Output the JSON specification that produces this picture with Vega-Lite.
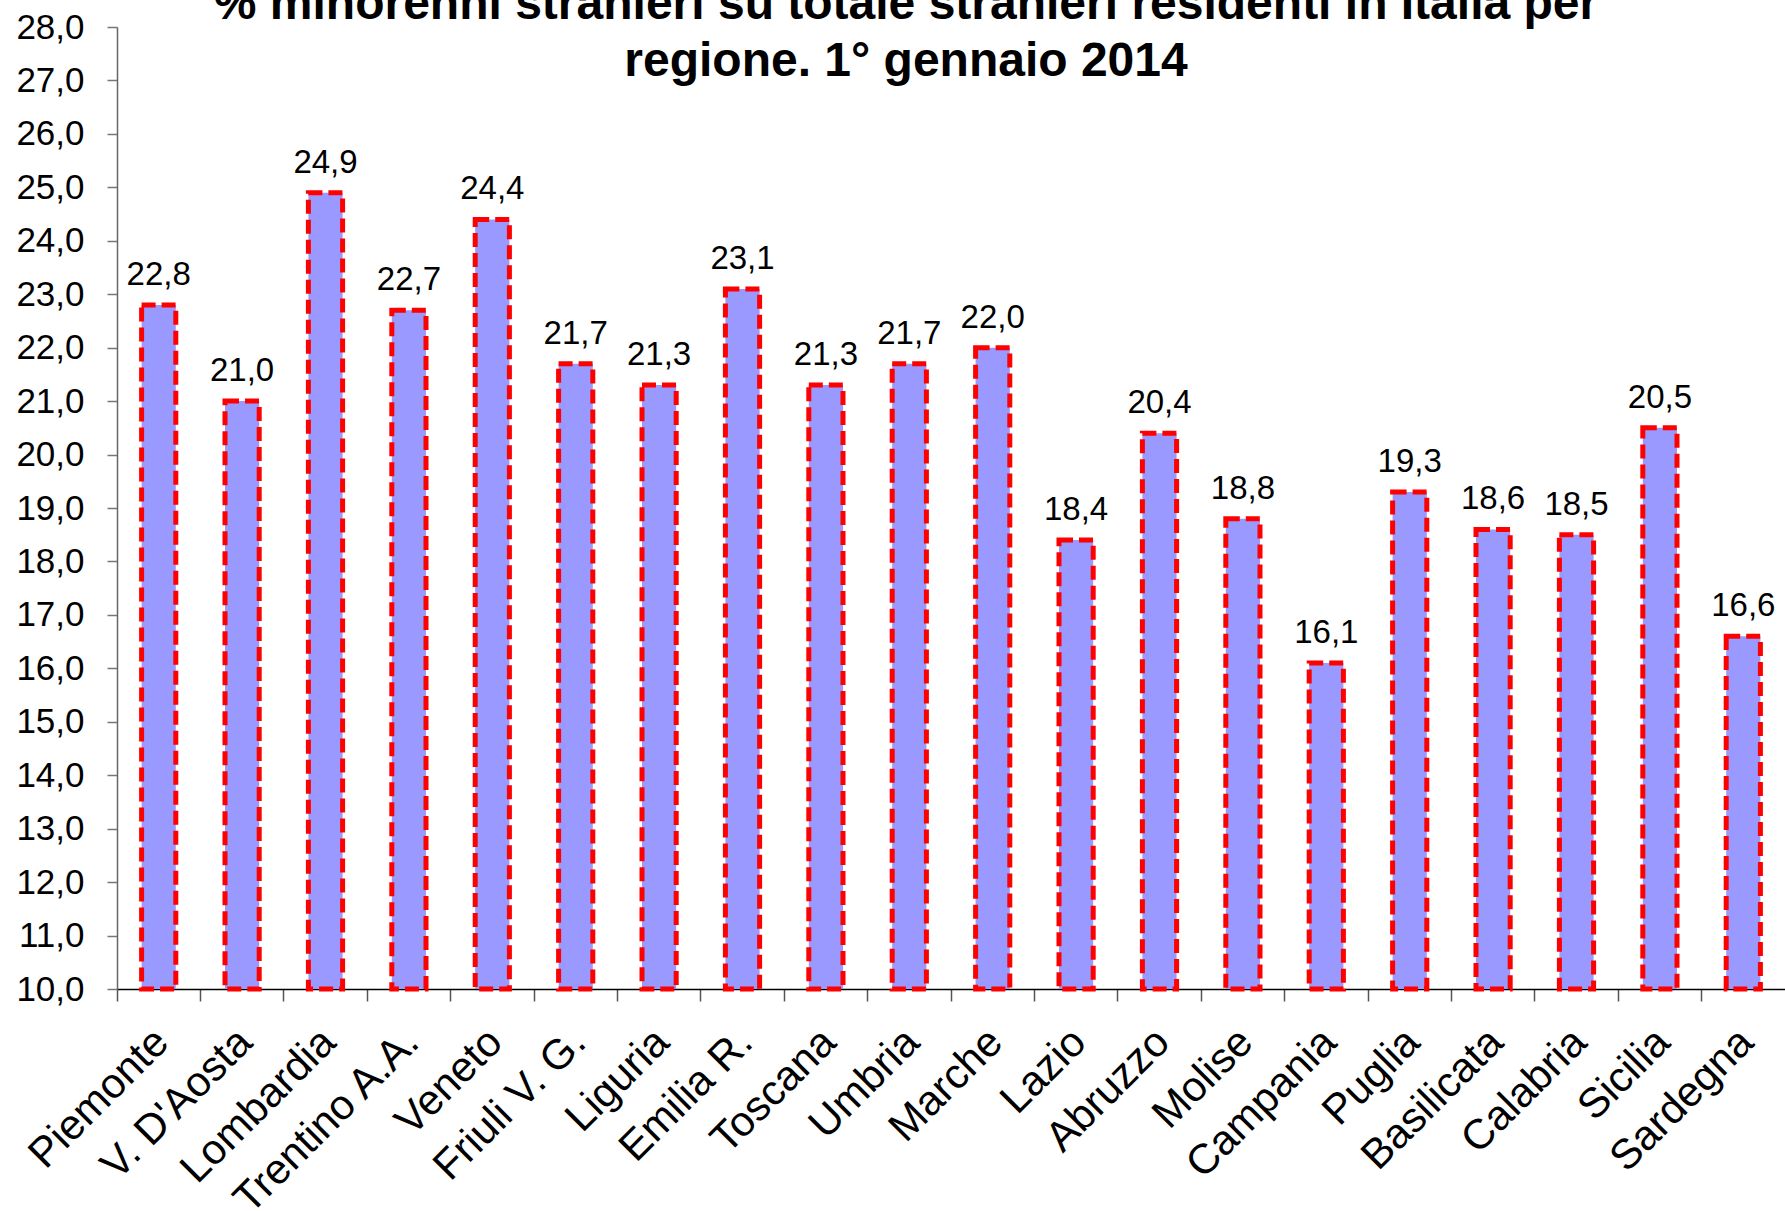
{
  "$schema": "https://vega.github.io/schema/vega-lite/v6.json",
  "width": 1668,
  "height": 962,
  "autosize": {"type": "none"},
  "padding": {"left": 117, "top": 27, "right": 0, "bottom": 222},
  "background": "white",
  "config": {
    "locale": {"number": {"decimal": ",", "thousands": ".", "grouping": [3], "currency": ["€", ""]}},
    "view": {"stroke": null},
    "font": "Liberation Sans"
  },
  "title": {
    "text": ["% minorenni stranieri su totale stranieri residenti in Italia per", "regione. 1° gennaio 2014"],
    "font": "Liberation Sans",
    "fontSize": 48,
    "fontWeight": "bold",
    "color": "black",
    "lineHeight": 57,
    "anchor": "middle",
    "frame": "group",
    "dx": -45,
    "offset": -76
  },
  "data": {
    "values": [
      {"regione": "Piemonte", "valore": 22.8},
      {"regione": "V. D'Aosta", "valore": 21.0},
      {"regione": "Lombardia", "valore": 24.9},
      {"regione": "Trentino A.A.", "valore": 22.7},
      {"regione": "Veneto", "valore": 24.4},
      {"regione": "Friuli V. G.", "valore": 21.7},
      {"regione": "Liguria", "valore": 21.3},
      {"regione": "Emilia R.", "valore": 23.1},
      {"regione": "Toscana", "valore": 21.3},
      {"regione": "Umbria", "valore": 21.7},
      {"regione": "Marche", "valore": 22.0},
      {"regione": "Lazio", "valore": 18.4},
      {"regione": "Abruzzo", "valore": 20.4},
      {"regione": "Molise", "valore": 18.8},
      {"regione": "Campania", "valore": 16.1},
      {"regione": "Puglia", "valore": 19.3},
      {"regione": "Basilicata", "valore": 18.6},
      {"regione": "Calabria", "valore": 18.5},
      {"regione": "Sicilia", "valore": 20.5},
      {"regione": "Sardegna", "valore": 16.6}
    ]
  },
  "encoding": {
    "x": {
      "field": "regione",
      "type": "nominal",
      "sort": null,
      "scale": {"paddingInner": 0, "paddingOuter": 0},
      "axis": {
        "title": null,
        "labelAngle": -45,
        "labelAlign": "right",
        "labelBaseline": "middle",
        "labelFont": "Liberation Sans",
        "labelFontSize": 42,
        "labelColor": "black",
        "labelPadding": 34,
        "labelOffset": 3,
        "labelOverlap": false,
        "labelBound": false,
        "labelFlush": false,
        "labelLimit": 0,
        "bandPosition": 0,
        "tickSize": 12,
        "tickColor": "#555555",
        "tickWidth": 1.5,
        "domainColor": "black",
        "domainWidth": 1.5
      }
    },
    "y": {
      "field": "valore",
      "type": "quantitative",
      "scale": {"domain": [10, 28], "zero": false, "nice": false},
      "axis": {
        "title": null,
        "values": [10, 11, 12, 13, 14, 15, 16, 17, 18, 19, 20, 21, 22, 23, 24, 25, 26, 27, 28],
        "format": ".1f",
        "grid": false,
        "labelFont": "Liberation Sans",
        "labelFontSize": 35,
        "labelColor": "black",
        "labelPadding": 23,
        "labelFlush": false,
        "labelOverlap": false,
        "tickSize": 10,
        "tickColor": "#777777",
        "tickWidth": 1.5,
        "domainColor": "#666666",
        "domainWidth": 1.5
      }
    }
  },
  "layer": [
    {
      "mark": {
        "type": "bar",
        "width": {"band": 0.41},
        "fill": "#9999FF",
        "stroke": "#FF0000",
        "strokeWidth": 5,
        "strokeDash": [14, 6],
        "opacity": 1
      },
      "encoding": {
        "y2": {"datum": 10}
      }
    },
    {
      "mark": {
        "type": "text",
        "baseline": "alphabetic",
        "align": "center",
        "dy": -20,
        "font": "Liberation Sans",
        "fontSize": 33,
        "color": "black"
      },
      "encoding": {
        "text": {"field": "valore", "type": "quantitative", "format": ".1f"}
      }
    }
  ]
}
